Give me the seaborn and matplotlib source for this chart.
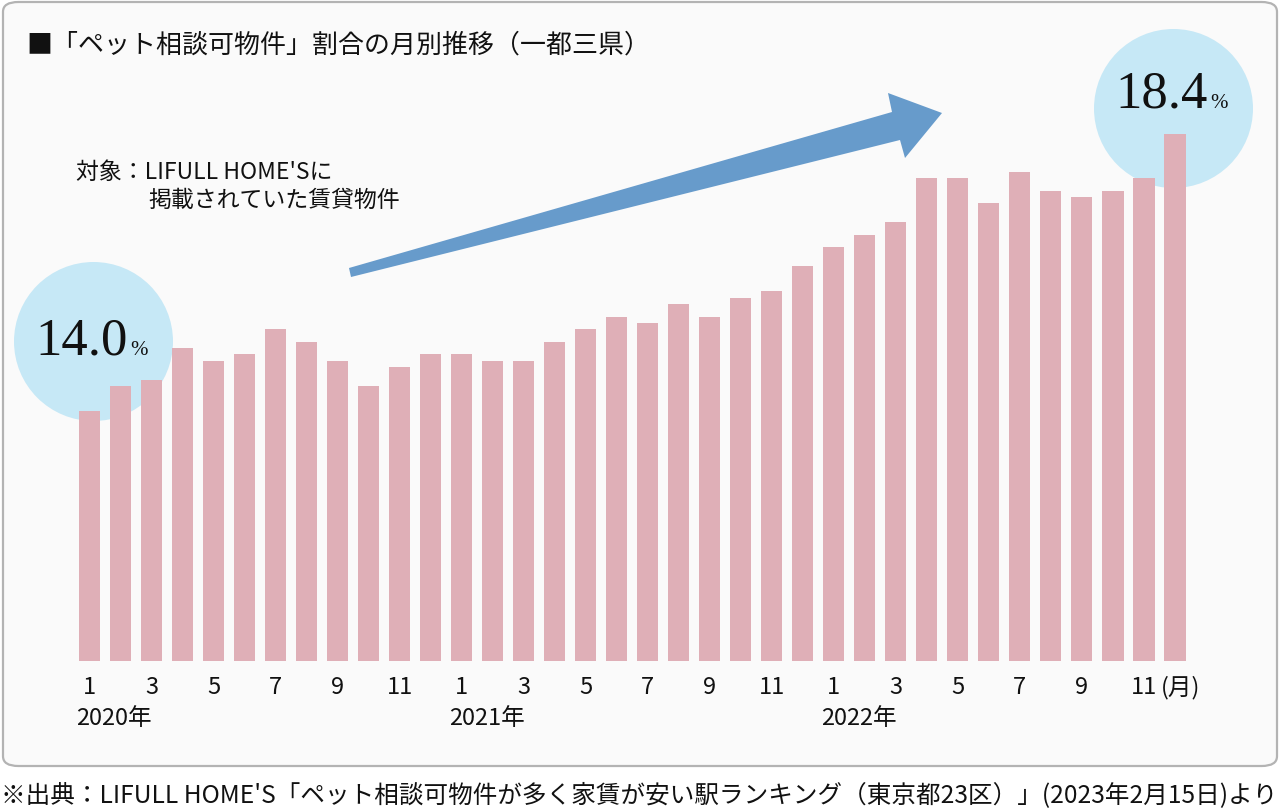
import matplotlib
matplotlib.use("Agg")
import matplotlib.pyplot as plt
import seaborn as sns
import numpy as np
import pandas as pd
from matplotlib.patches import FancyBboxPatch, Ellipse, Polygon

# ---------------- data ----------------
years = ["2020年", "2021年", "2022年"]
months = list(range(1, 13))
share_2020 = [14.0, 14.4, 14.5, 15.0, 14.8, 14.9, 15.3, 15.1, 14.8, 14.4, 14.7, 14.9]
share_2021 = [14.9, 14.8, 14.8, 15.1, 15.3, 15.5, 15.4, 15.7, 15.5, 15.8, 15.9, 16.3]
share_2022 = [16.6, 16.8, 17.0, 17.7, 17.7, 17.3, 17.8, 17.5, 17.4, 17.5, 17.7, 18.4]
first_label = "14.0"
last_label = "18.4"

title = "■「ペット相談可物件」割合の月別推移（一都三県）"
note_line1 = "対象：LIFULL HOME'Sに"
note_line2 = "掲載されていた賃貸物件"
month_unit = "(月)"
source = "※出典：LIFULL HOME'S「ペット相談可物件が多く家賃が安い駅ランキング（東京都23区）」(2023年2月15日)より"

values = share_2020 + share_2021 + share_2022
df = pd.DataFrame({
    "idx": np.arange(len(values)),
    "month": months * 3,
    "share": values,
})

# ---------------- style ----------------
sns.set_theme(style="white")
plt.rcParams['font.family'] = ['Noto Sans CJK JP', 'DejaVu Sans']

W, H = 1280, 812
fig = plt.figure(figsize=(W / 100, H / 100), dpi=100)
fig.patch.set_facecolor("white")

def fx(x):
    return x / W

def fy(y):
    return 1 - y / H

# frame
frame = FancyBboxPatch((fx(3), fy(767)), fx(1274), (767 - 3) / H,
                       boxstyle="round,pad=0,rounding_size=0.012",
                       transform=fig.transFigure, facecolor="#fafafa",
                       edgecolor="#b3b3b3", linewidth=1.6, zorder=-5)
fig.patches.append(frame)

BAR = "#dfafb7"
CIRCLE = "#c6e8f6"
ARROW = "#679bcb"
TXT = "#111111"

# axes: baseline at y=662, 62.95 px per %
px_per = 62.95
ymin, ymax = 10.03, 19.0
ax_bottom = 662
ax_top = ax_bottom - (ymax - ymin) * px_per
ax_left, ax_right = 74, 1190.5
ax = fig.add_axes([fx(ax_left), fy(ax_bottom), (ax_right - ax_left) / W, (ax_bottom - ax_top) / H])
ax.set_facecolor("none")

sns.barplot(data=df, x="idx", y="share", color=BAR, saturation=1, width=0.68,
            ax=ax, zorder=2, edgecolor="none")
ax.set_ylim(ymin, ymax)
ax.set_xlim(-0.5, len(values) - 0.5)
for s in ax.spines.values():
    s.set_visible(False)
ax.set_yticks([])
ax.set_xlabel("")
ax.set_ylabel("")
tick_pos = [i for i in range(len(values)) if df["month"][i] % 2 == 1]
ax.set_xticks(tick_pos)
ax.set_xticklabels([str(df["month"][i]) for i in tick_pos], fontsize=17, color=TXT)
ax.tick_params(axis="x", length=0, pad=10)

xt = ax.get_xaxis_transform()
ax_h = ax_bottom - ax_top
# year labels
for k, yl in enumerate(years):
    ax.text(k * 12 - 0.42, -57 / ax_h, yl, transform=xt,
            ha="left", va="center", fontsize=17, color=TXT)
ax.text(tick_pos[-1] + 0.55, -26 / ax_h, month_unit, transform=xt,
        ha="left", va="center", fontsize=17, color=TXT)

# circles behind bars
for cx, cy in [(93.5, 342.5), (1173.5, 109.5)]:
    e = Ellipse((fx(cx), fy(cy)), 159 / W, 159 / H, transform=fig.transFigure,
                facecolor=CIRCLE, edgecolor="none", zorder=0.5, clip_on=False)
    ax.add_patch(e)

# arrow
arrow_pts = [(349, 269), (892, 113), (888, 94), (942, 114), (905, 159), (900, 141), (351, 278)]
arrow = Polygon([(fx(x), fy(y)) for x, y in arrow_pts], closed=True,
                transform=fig.transFigure, facecolor=ARROW, edgecolor="none", zorder=1)
fig.patches.append(arrow)

# texts
fig.text(fx(26), fy(45), title, fontsize=18.7, ha="left", va="center", color=TXT)
fig.text(fx(76), fy(172), note_line1, fontsize=16.5, ha="left", va="center", color=TXT)
fig.text(fx(148), fy(200), note_line2, fontsize=16.5, ha="left", va="center", color=TXT)

serif = ["Liberation Serif", "DejaVu Serif"]
big1 = fig.text(fx(35), fy(355), first_label, fontsize=38, family=serif, ha="left", va="baseline", color=TXT)
big2 = fig.text(fx(1115), fy(108), last_label, fontsize=38, family=serif, ha="left", va="baseline", color=TXT)
src = fig.text(fx(1), fy(795), source, fontsize=16, ha="left", va="center", color=TXT)
fig.canvas.draw()
for big, base in [(big1, 355), (big2, 108)]:
    bb = big.get_window_extent()
    fig.text(fx(bb.x1 + 3), fy(base), "%", fontsize=15, family=serif, ha="left", va="baseline", color=TXT)
bb = src.get_window_extent()
src.set_fontsize(16 * 1275 / bb.width)

fig.savefig("out.png", dpi=100)
